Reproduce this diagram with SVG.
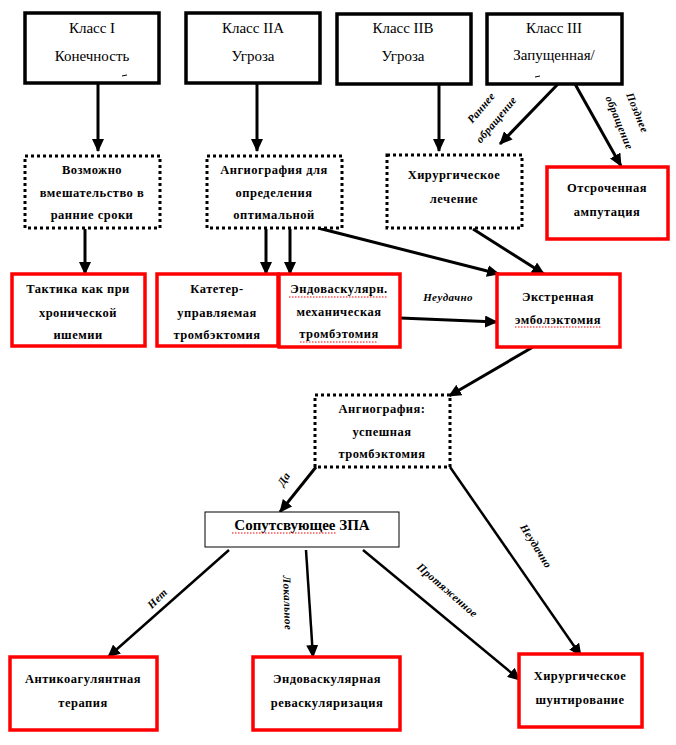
<svg xmlns="http://www.w3.org/2000/svg" width="676" height="745" viewBox="0 0 676 745">
<style>
.bg{fill:#fff}
.top{fill:#fff;stroke:#000;stroke-width:3.5}
.dot{fill:#fff;stroke:#000;stroke-width:3;stroke-dasharray:3 3}
.red{fill:#fff;stroke:#f00;stroke-width:3.5}
.thin{fill:#fff;stroke:#000;stroke-width:1}
.t{font-family:'Liberation Serif','DejaVu Serif',serif;font-size:15px;fill:#000;text-anchor:middle}
.b{font-family:'Liberation Serif','DejaVu Serif',serif;font-size:12.5px;font-weight:bold;fill:#000;text-anchor:middle;letter-spacing:0.5px}
.big{font-family:'Liberation Serif','DejaVu Serif',serif;font-size:15px;font-weight:bold;fill:#000;text-anchor:middle}
.lab{font-family:'Liberation Serif','DejaVu Serif',serif;font-size:11px;font-weight:bold;font-style:italic;fill:#000;text-anchor:middle;letter-spacing:0.4px}
.c{stroke:#000;stroke-width:3;fill:none;marker-end:url(#ah)}
.c2{stroke:#000;stroke-width:2.5;fill:none;marker-end:url(#ah)}
.sq{stroke:#f00;stroke-width:1;stroke-dasharray:1.5 1.5;fill:none}
</style>
<defs>
<marker id="ah" markerUnits="userSpaceOnUse" markerWidth="14" markerHeight="12" viewBox="0 0 14 12" refX="12" refY="6" orient="auto">
<path d="M0,0 L13,6 L0,12 Z" fill="#000"/>
</marker>
</defs>
<rect class="bg" x="0" y="0" width="676" height="745"/>

<g id="connectors">
<line class="c" x1="98" y1="83" x2="98" y2="151"/>
<line class="c" x1="257" y1="83" x2="257" y2="151"/>
<line class="c" x1="439" y1="84" x2="439" y2="151"/>
<line class="c" x1="558" y1="84" x2="500" y2="144"/>
<line class="c" x1="575" y1="84" x2="621" y2="166"/>
<line class="c" x1="85" y1="229" x2="85" y2="274"/>
<line class="c" x1="266" y1="229" x2="266" y2="274"/>
<line class="c" x1="290" y1="229" x2="290" y2="274"/>
<line class="c" x1="318" y1="228" x2="499" y2="274"/>
<line class="c" x1="473" y1="229" x2="544" y2="274"/>
<line class="c" x1="400" y1="318" x2="497" y2="322"/>
<line class="c" x1="533" y1="347" x2="449" y2="396"/>
<line class="c" x1="316" y1="467" x2="280" y2="512"/>
<line class="c2" x1="450" y1="467" x2="581" y2="656"/>
<line class="c2" x1="229" y1="550" x2="108" y2="657"/>
<line class="c2" x1="306" y1="550" x2="313" y2="657"/>
<line class="c2" x1="363" y1="550" x2="520" y2="680"/>
<text class="lab" font-size="10" transform="translate(484,110) rotate(-50)">Раннее</text>
<text class="lab" font-size="10" transform="translate(499,122) rotate(-50)">обращение</text>
<text class="lab" font-size="10" transform="translate(634,114) rotate(68)">Позднее</text>
<text class="lab" font-size="10" transform="translate(616,124) rotate(68)">обращение</text>
<text class="lab" font-size="12" x="448" y="301">Неудачно</text>
<text class="lab" transform="translate(287,481) rotate(-58)">Да</text>
<text class="lab" transform="translate(533,548) rotate(58)">Неудачно</text>
<text class="lab" transform="translate(160,601) rotate(-45)">Нет</text>
<text class="lab" transform="translate(284,603) rotate(88)">Локальное</text>
<text class="lab" transform="translate(445,593) rotate(41)">Протяженное</text>
</g>

<g id="n-class1">
<rect class="top" x="25" y="13" width="134" height="70"/>
<text class="t" x="92" y="33">Класс I</text>
<text class="t" x="92" y="61">Конечность</text>
<line x1="122" y1="76" x2="127" y2="75" stroke="#000" stroke-width="1"/>
</g>
<g id="n-class2a">
<rect class="top" x="186" y="13" width="134" height="70"/>
<text class="t" x="253" y="33">Класс IIA</text>
<text class="t" x="253" y="61">Угроза</text>
</g>
<g id="n-class2b">
<rect class="top" x="337" y="14" width="134" height="70"/>
<text class="t" x="403" y="33">Класс IIB</text>
<text class="t" x="403" y="61">Угроза</text>
</g>
<g id="n-class3">
<rect class="top" x="487" y="14" width="135" height="70"/>
<text class="t" x="554" y="33">Класс III</text>
<text class="t" x="554" y="60">Запущенная/</text>
<line x1="535" y1="77" x2="540" y2="76" stroke="#000" stroke-width="1"/>
</g>

<g id="n-early">
<rect class="dot" x="25" y="156" width="135" height="72"/>
<text class="b" x="92" y="174">Возможно</text>
<text class="b" x="92" y="197">вмешательство  в</text>
<text class="b" x="92" y="219">ранние сроки</text>
</g>
<g id="n-angio1">
<rect class="dot" x="207" y="156" width="135" height="72"/>
<text class="b" x="274" y="174">Ангиография для</text>
<text class="b" x="274" y="197">определения</text>
<text class="b" x="274" y="219">оптимальной</text>
</g>
<g id="n-surg">
<rect class="dot" x="387" y="155" width="135" height="73"/>
<text class="b" x="454" y="179">Хирургическое</text>
<text class="b" x="454" y="203">лечение</text>
</g>
<g id="n-amput">
<rect class="red" x="547" y="167" width="121" height="72"/>
<text class="b" x="607" y="192">Отсроченная</text>
<text class="b" x="607" y="216">ампутация</text>
</g>

<g id="n-chronic">
<rect class="red" x="12" y="274" width="133" height="72"/>
<text class="b" x="78" y="293">Тактика как при</text>
<text class="b" x="78" y="317">хронической</text>
<text class="b" x="78" y="339">ишемии</text>
</g>
<g id="n-catheter">
<rect class="red" x="157" y="274" width="121" height="72"/>
<text class="b" x="217" y="293">Катетер-</text>
<text class="b" x="217" y="317">управляемая</text>
<text class="b" x="217" y="339">тромбэктомия</text>
</g>
<g id="n-mech">
<rect class="red" x="279" y="274" width="121" height="73"/>
<text class="b" x="339" y="293">Эндоваскулярн.</text>
<text class="b" x="339" y="316">механическая</text>
<text class="b" x="339" y="338">тромбэтомия</text>
<line class="sq" x1="289" y1="297" x2="388" y2="297"/>
<line class="sq" x1="300" y1="342" x2="378" y2="342"/>
</g>
<g id="n-embol">
<rect class="red" x="497" y="274" width="123" height="73"/>
<text class="b" x="558" y="301">Экстренная</text>
<text class="b" x="558" y="324">эмболэктомия</text>
<line class="sq" x1="515" y1="327" x2="601" y2="327"/>
</g>

<g id="n-angio2">
<rect class="dot" x="315" y="395" width="135" height="72"/>
<text class="b" x="382" y="413">Ангиография:</text>
<text class="b" x="382" y="436">успешная</text>
<text class="b" x="382" y="458">тромбэктомия</text>
</g>
<g id="n-zpa">
<rect class="thin" x="205" y="512" width="194" height="35"/>
<text class="big" x="302" y="530">Сопутсвующее ЗПА</text>
<line class="sq" x1="232" y1="533" x2="336" y2="533"/>
</g>

<g id="n-anticoag">
<rect class="red" x="10" y="657" width="147" height="73"/>
<text class="b" x="83" y="683">Антикоагулянтная</text>
<text class="b" x="83" y="707">терапия</text>
</g>
<g id="n-endorev">
<rect class="red" x="253" y="657" width="147" height="73"/>
<text class="b" x="327" y="683">Эндоваскулярная</text>
<text class="b" x="327" y="707">реваскуляризация</text>
</g>
<g id="n-bypass">
<rect class="red" x="519" y="654" width="123" height="73"/>
<text class="b" x="580" y="680">Хирургическое</text>
<text class="b" x="580" y="704">шунтирование</text>
</g>
</svg>
